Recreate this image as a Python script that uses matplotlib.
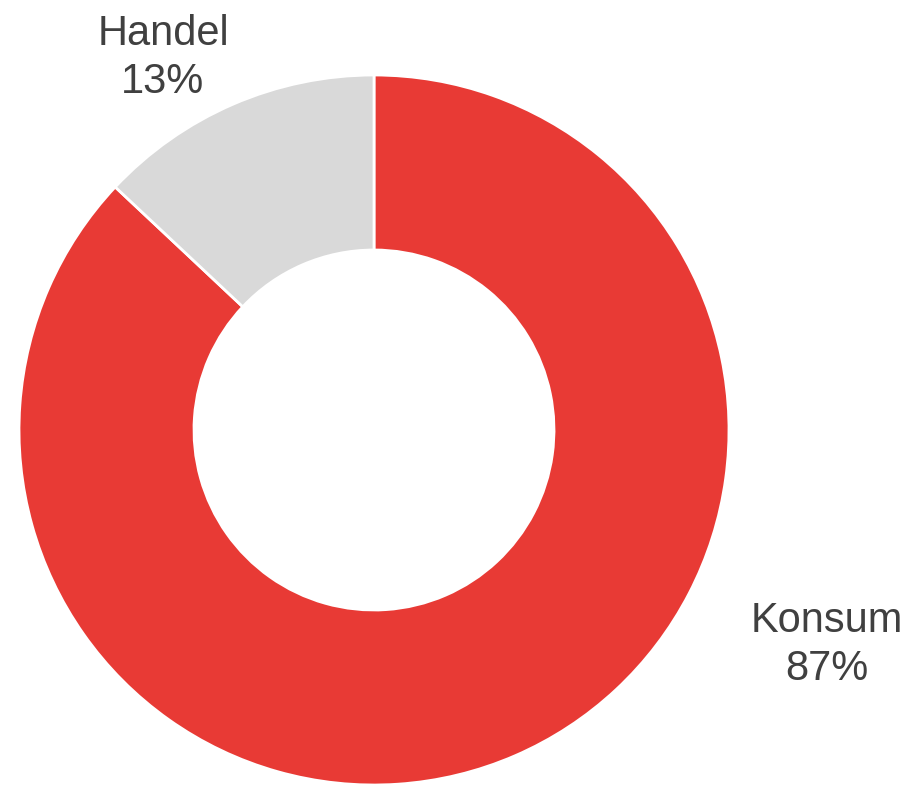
import matplotlib.pyplot as plt

# Данные
labels = ["Konsum", "Handel"]
shares = [87, 13]
colors = ["#E83A35", "#D9D9D9"]

plt.rcParams['font.family'] = ['Liberation Sans', 'DejaVu Sans']

fig = plt.figure(figsize=(9.09, 7.86), dpi=100)
ax = fig.add_axes([0, 0, 1, 1])

# Кольцевая диаграмма (центр и радиус в пикселях)
ax.pie(shares, colors=colors, startangle=90, counterclock=False,
       center=(374, 356), radius=355, frame=True,
       wedgeprops=dict(width=175, edgecolor='white', linewidth=2))
ax.set_xlim(0, 909)
ax.set_ylim(0, 786)
ax.axis('off')

# Подписи
txt = dict(fontsize=30, color='#404040', ha='center', va='baseline')
ax.text(163, 786 - 45, labels[1], **txt)
ax.text(163, 786 - 93, f"{shares[1]}%", **txt)
ax.text(827, 786 - 632, labels[0], **txt)
ax.text(827, 786 - 680, f"{shares[0]}%", **txt)

plt.savefig("out.png", dpi=100)
